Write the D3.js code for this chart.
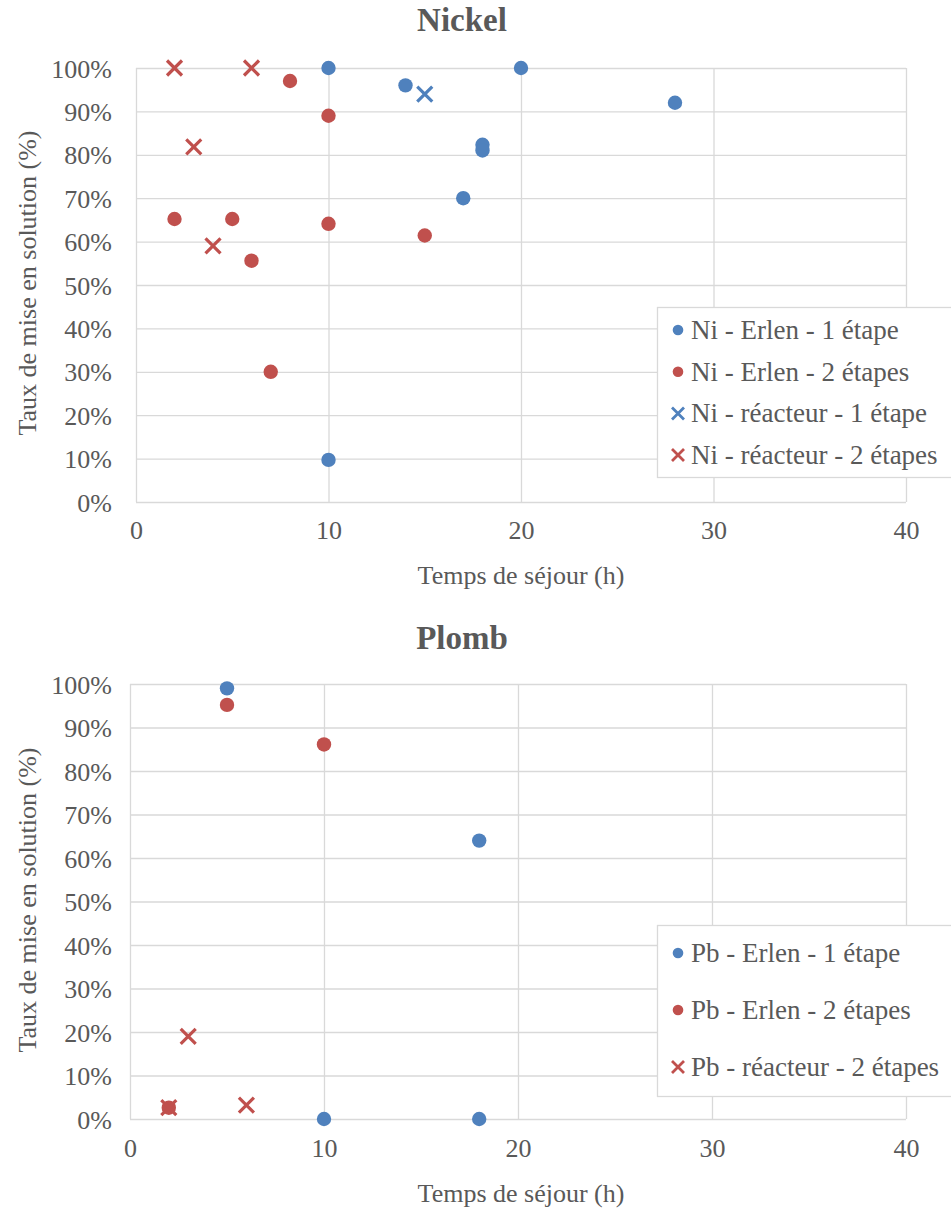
<!DOCTYPE html>
<html><head><meta charset="utf-8">
<script src="https://cdn.jsdelivr.net/npm/d3@7"></script>
<style>
html,body{margin:0;padding:0;background:#fff;}
svg text{font-family:"Liberation Serif","Times New Roman",serif;fill:#595959;}
</style></head>
<body>
<svg id="chart" width="951" height="1210"></svg>
<script>
// ---------- data ----------
const xTicks = [0, 10, 20, 30, 40];
const yTicks = [0, 10, 20, 30, 40, 50, 60, 70, 80, 90, 100];
const xTitle = "Temps de séjour (h)";
const yTitle = "Taux de mise en solution (%)";

// Nickel
const niErlen1X = [10, 14, 20, 28, 18, 18, 17, 10];
const niErlen1Y = [100, 96, 100, 92, 82.3, 81, 70, 9.7];
const niErlen2X = [8, 10, 2, 5, 10, 15, 6, 7];
const niErlen2Y = [97, 89, 65.2, 65.2, 64.1, 61.4, 55.6, 30];
const niReact1X = [15];
const niReact1Y = [94];
const niReact2X = [2, 6, 3, 4];
const niReact2Y = [100, 100, 81.8, 59];

// Plomb
const pbErlen1X = [5, 18, 10, 18];
const pbErlen1Y = [99, 64, 0, 0];
const pbErlen2X = [5, 10, 2];
const pbErlen2Y = [95.2, 86.1, 2.6];
const pbReact2X = [3, 2, 6];
const pbReact2Y = [19, 2.6, 3.2];

const blue = "#4F81BD", red = "#C0504D", grid = "#D9D9D9";

const svg = d3.select("#chart");

function drawChart(cfg) {
  const x = d3.scaleLinear().domain([0, 40]).range([cfg.left, cfg.right]);
  const y = d3.scaleLinear().domain([0, 100]).range([cfg.bottom, cfg.top]);
  const g = svg.append("g");

  // gridlines
  g.append("g").selectAll("line.h").data(yTicks).join("line")
    .attr("x1", cfg.left).attr("x2", cfg.right)
    .attr("y1", d => y(d) + 0.5).attr("y2", d => y(d) + 0.5)
    .attr("stroke", grid).attr("stroke-width", 1.3);
  g.append("g").selectAll("line.v").data(xTicks).join("line")
    .attr("y1", cfg.top).attr("y2", cfg.bottom)
    .attr("x1", d => x(d) + 0.5).attr("x2", d => x(d) + 0.5)
    .attr("stroke", grid).attr("stroke-width", 1.3);

  // axes (labels only)
  const ya = g.append("g").attr("transform", `translate(${cfg.left - cfg.yLabGap + 8},0)`)
    .call(d3.axisLeft(y).tickValues(yTicks).tickFormat(d => d + "%").tickSize(0).tickPadding(8));
  ya.select(".domain").remove();
  ya.selectAll("text").style("font-size", "26px").attr("fill", "#595959").attr("dy", "0.35em");

  const xa = g.append("g").attr("transform", `translate(0,${cfg.xLabY})`)
    .call(d3.axisBottom(x).tickValues(xTicks).tickFormat(d3.format("d")).tickSize(0).tickPadding(0));
  xa.select(".domain").remove();
  xa.selectAll("text").style("font-size", "26px").attr("fill", "#595959").attr("dy", "0.35em");

  // titles
  g.append("text").attr("x", cfg.titleX).attr("y", cfg.titleY)
    .attr("text-anchor", "middle").attr("dominant-baseline", "central")
    .style("font-size", "33px").style("font-weight", "bold").text(cfg.title);
  g.append("text").attr("x", 521).attr("y", cfg.xTitleY)
    .attr("text-anchor", "middle").attr("dominant-baseline", "central")
    .style("font-size", "26px").text(xTitle);
  g.append("text").attr("transform", `translate(27,${cfg.yTitleY}) rotate(-90)`)
    .attr("text-anchor", "middle").attr("dominant-baseline", "central")
    .style("font-size", "26px").text(yTitle);

  // series
  cfg.series.forEach(s => {
    const pts = s.xs.map((v, i) => [v, s.ys[i]]);
    if (s.shape === "circle") {
      g.append("g").selectAll("circle").data(pts).join("circle")
        .attr("cx", d => x(d[0])).attr("cy", d => y(d[1])).attr("r", 7.2)
        .attr("fill", s.color);
    } else {
      const k = 7.5;
      g.append("g").selectAll("path").data(pts).join("path")
        .attr("d", d => {
          const cx = x(d[0]), cy = y(d[1]);
          return `M${cx - k},${cy - k}L${cx + k},${cy + k}M${cx - k},${cy + k}L${cx + k},${cy - k}`;
        })
        .attr("stroke", s.color).attr("stroke-width", 3.2).attr("fill", "none");
    }
  });

  // legend
  const lg = g.append("g");
  lg.append("rect").attr("x", cfg.legX + 0.5).attr("y", cfg.legTop + 0.5)
    .attr("width", 320).attr("height", cfg.legBottom - cfg.legTop)
    .attr("fill", "#fff").attr("stroke", grid).attr("stroke-width", 1.3);
  cfg.series.forEach((s, i) => {
    const cy = cfg.legRow0 + i * cfg.legStep;
    const mx = cfg.legX + 21;
    if (s.shape === "circle") {
      lg.append("circle").attr("cx", mx).attr("cy", cy).attr("r", 5.3).attr("fill", s.color);
    } else {
      const k = 6;
      lg.append("path")
        .attr("d", `M${mx - k},${cy - k}L${mx + k},${cy + k}M${mx - k},${cy + k}L${mx + k},${cy - k}`)
        .attr("stroke", s.color).attr("stroke-width", 2.8);
    }
    lg.append("text").attr("x", cfg.legX + 34).attr("y", cy)
      .attr("dominant-baseline", "central").style("font-size", "27px").text(s.name);
  });
}

drawChart({
  title: "Nickel", titleX: 462, titleY: 20,
  left: 136, right: 906, top: 68, bottom: 502,
  yLabGap: 24, xLabY: 530, xTitleY: 575, yTitleY: 283,
  legX: 657, legTop: 307, legBottom: 477, legRow0: 330, legStep: 41.7,
  series: [
    {name: "Ni - Erlen - 1 étape", shape: "circle", color: blue, xs: niErlen1X, ys: niErlen1Y},
    {name: "Ni - Erlen - 2 étapes", shape: "circle", color: red, xs: niErlen2X, ys: niErlen2Y},
    {name: "Ni - réacteur - 1 étape", shape: "cross", color: blue, xs: niReact1X, ys: niReact1Y},
    {name: "Ni - réacteur - 2 étapes", shape: "cross", color: red, xs: niReact2X, ys: niReact2Y}
  ]
});

drawChart({
  title: "Plomb", titleX: 462, titleY: 638,
  left: 130, right: 906, top: 684, bottom: 1119,
  yLabGap: 18, xLabY: 1148, xTitleY: 1193, yTitleY: 900,
  legX: 657, legTop: 925, legBottom: 1096, legRow0: 953, legStep: 57,
  series: [
    {name: "Pb - Erlen - 1 étape", shape: "circle", color: blue, xs: pbErlen1X, ys: pbErlen1Y},
    {name: "Pb - Erlen - 2 étapes", shape: "circle", color: red, xs: pbErlen2X, ys: pbErlen2Y},
    {name: "Pb - réacteur - 2 étapes", shape: "cross", color: red, xs: pbReact2X, ys: pbReact2Y}
  ]
});
</script>
</body></html>
